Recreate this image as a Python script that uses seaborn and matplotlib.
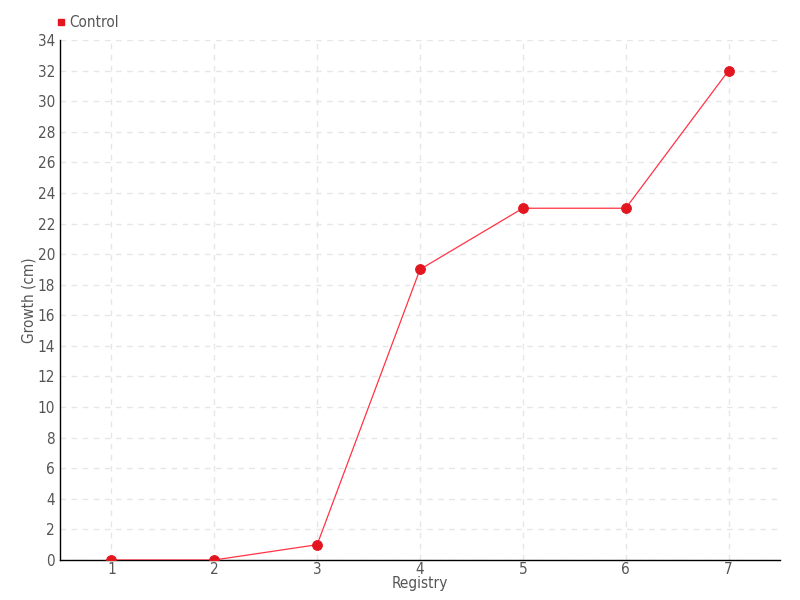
import numpy as np
import pandas as pd
import matplotlib
matplotlib.use('Agg')
import matplotlib.pyplot as plt
import seaborn as sns
from matplotlib.lines import Line2D

registry = [1, 2, 3, 4, 5, 6, 7]
growth = [0, 0, 1, 19, 23, 23, 32]
y_ticks = list(range(0, 35, 2))

df = pd.DataFrame({'Registry': registry, 'Growth': growth})

sns.set_style('white')
plt.rcParams['font.family'] = ['DejaVu Sans']
plt.rcParams['font.stretch'] = 'condensed'

fig = plt.figure(figsize=(8, 6), dpi=100)
ax = fig.add_axes([0.075, 0.0667, 0.9, 0.8666])

sns.lineplot(data=df, x='Registry', y='Growth', ax=ax, color='#ff3344',
             linewidth=0.9, marker='o', markersize=7, markerfacecolor='#e3161f',
             markeredgecolor='#e3161f', zorder=3)

ax.set_xlim(0.5, 7.5)
ax.set_ylim(0, 34)
ax.set_xticks(registry)
ax.set_yticks(y_ticks)
ax.grid(True, color='#e6e6e6', linestyle=(0, (4, 4)), linewidth=1)
for side in ['top', 'right']:
    ax.spines[side].set_visible(False)
for side in ['left', 'bottom']:
    ax.spines[side].set_color('black')
    ax.spines[side].set_linewidth(1)
ax.tick_params(axis='both', direction='inout', length=5, width=1, colors='black',
               labelcolor='#555555', labelsize=11, pad=2)
ax.tick_params(axis='y', pad=1)
ax.tick_params(axis='x', pad=-1)
ax.set_xlabel('Registry', color='#555555', fontsize=11, labelpad=-0.5)
ax.set_ylabel('Growth (cm)', color='#555555', fontsize=11, labelpad=1)

handle = Line2D([], [], marker='s', linestyle='none', color='#e3161f', markersize=5)
fig.legend([handle], ['Control'], loc='upper left', bbox_to_anchor=(0.052, 0.998),
           frameon=False, handletextpad=0.1, fontsize=11, labelcolor='#555555',
           handlelength=0.8)

fig.savefig('out.png', dpi=100)
